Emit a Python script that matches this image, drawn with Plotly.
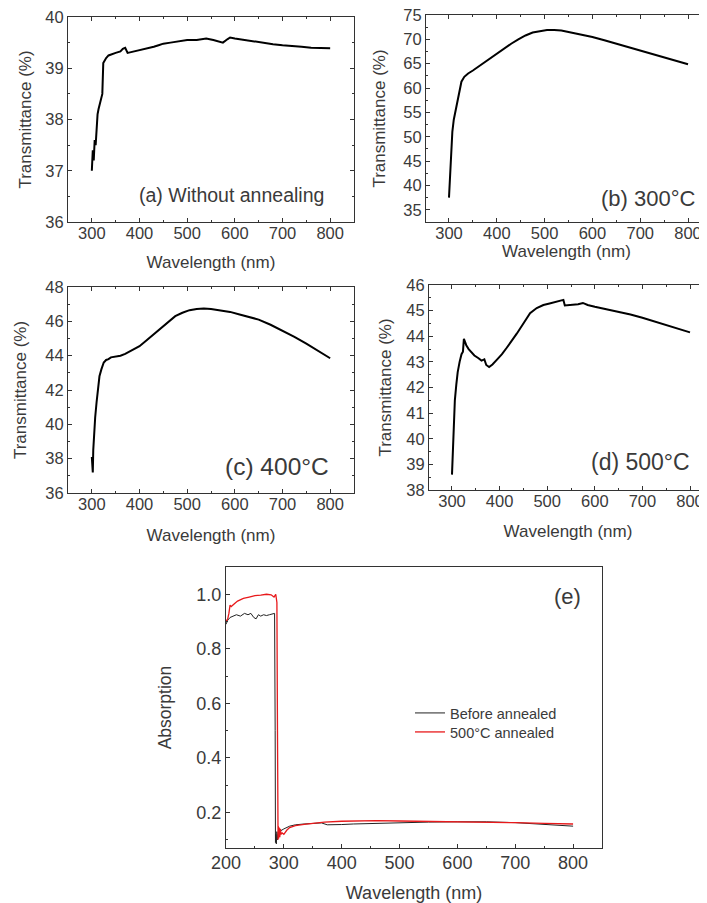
import plotly.graph_objects as go

# ---------------- data ----------------
wl_a = [300, 302, 304, 306, 308, 310, 312, 314, 317, 320, 322, 324, 327, 330, 335, 340, 350, 360, 365, 370, 375, 380, 390, 400, 410, 420, 430, 440, 450, 465, 480, 500, 520, 540, 555, 565, 575, 585, 590, 600, 620, 640, 660, 680, 700, 720, 740, 760, 780, 800]
tr_a = [37.0, 37.4, 37.2, 37.6, 37.5, 37.9, 38.1, 38.2, 38.3, 38.4, 38.5, 39.1, 39.15, 39.2, 39.25, 39.27, 39.3, 39.33, 39.38, 39.4, 39.3, 39.31, 39.33, 39.36, 39.38, 39.4, 39.42, 39.45, 39.48, 39.5, 39.52, 39.55, 39.55, 39.58, 39.55, 39.52, 39.5, 39.57, 39.6, 39.58, 39.55, 39.52, 39.5, 39.47, 39.45, 39.44, 39.42, 39.4, 39.39, 39.39]

wl_b = [300, 302, 304, 307, 310, 314, 318, 322, 326, 332, 340, 350, 360, 370, 385, 400, 415, 430, 445, 460, 475, 490, 505, 520, 535, 550, 575, 600, 625, 650, 675, 700, 725, 750, 775, 800]
tr_b = [37.5, 42.0, 46.5, 51.0, 53.5, 55.5, 58.0, 60.0, 61.3, 62.3, 63.0, 63.6, 64.3, 65.0, 66.0, 67.0, 68.0, 69.1, 70.0, 70.8, 71.4, 71.7, 71.9, 71.9, 71.8, 71.5, 71.0, 70.5, 69.8, 69.1, 68.4, 67.7, 67.0, 66.2, 65.5, 64.9]

wl_c = [300, 301, 302, 303, 305, 307, 310, 313, 316, 320, 325, 330, 335, 340, 350, 360, 370, 380, 390, 400, 415, 430, 445, 460, 475, 490, 505, 520, 535, 550, 570, 590, 610, 630, 650, 675, 700, 725, 750, 775, 800]
tr_c = [38.1, 37.6, 37.2, 38.5, 39.6, 40.4, 41.3, 42.3, 42.8, 43.2, 43.6, 43.75, 43.8, 43.9, 43.95, 44.0, 44.1, 44.25, 44.4, 44.55, 44.9, 45.25, 45.65, 46.0, 46.3, 46.5, 46.65, 46.72, 46.75, 46.72, 46.65, 46.55, 46.4, 46.25, 46.1, 45.8, 45.45, 45.1, 44.7, 44.3, 43.85]

wl_d = [300, 302, 304, 306, 309, 312, 316, 320, 323, 325, 327, 330, 335, 340, 347, 355, 362, 368, 372, 378, 385, 395, 405, 415, 425, 436, 450, 464, 478, 492, 505, 518, 530, 534, 537, 545, 555, 565, 575, 585, 600, 625, 650, 675, 700, 725, 750, 775, 800]
tr_d = [38.6, 39.8, 40.6, 41.5, 42.1, 42.6, 43.0, 43.3, 43.4, 43.9, 43.8, 43.65, 43.5, 43.4, 43.25, 43.15, 43.05, 43.1, 42.88, 42.8, 42.9, 43.1, 43.3, 43.55, 43.8, 44.1, 44.5, 44.9, 45.1, 45.22, 45.28, 45.33, 45.4, 45.42, 45.2, 45.22, 45.22, 45.25, 45.3, 45.22, 45.15, 45.05, 44.95, 44.85, 44.72, 44.58, 44.45, 44.3, 44.15]

wl_e_before = [200, 203, 207, 212, 218, 225, 232, 238, 243, 248, 252, 256, 260, 265, 270, 275, 280, 284, 285, 285.5, 286, 287, 288, 289, 290, 292, 295, 300, 310, 320, 335, 350, 365, 375, 385, 400, 420, 450, 500, 550, 600, 650, 700, 750, 780, 800]
abs_e_before = [0.89, 0.905, 0.915, 0.92, 0.925, 0.92, 0.93, 0.925, 0.93, 0.915, 0.91, 0.925, 0.92, 0.925, 0.922, 0.925, 0.928, 0.93, 0.5, 0.09, 0.12, 0.085, 0.13, 0.1, 0.12, 0.13, 0.135, 0.14, 0.15, 0.155, 0.158, 0.16, 0.162, 0.155, 0.155, 0.156, 0.158, 0.16, 0.163, 0.165, 0.166, 0.166, 0.163, 0.156, 0.152, 0.15]

wl_e_after = [200, 203, 205, 207, 209, 212, 216, 220, 225, 230, 240, 250, 260, 270, 278, 283, 286, 288, 289, 289.5, 290, 290.5, 291, 292, 293, 294, 295, 297, 300, 305, 310, 320, 335, 350, 370, 400, 430, 460, 500, 550, 600, 650, 700, 750, 800]
abs_e_after = [0.9, 0.91, 0.93, 0.96, 0.955, 0.962, 0.968, 0.975, 0.98, 0.985, 0.99, 0.995, 0.997, 1.0, 0.998, 0.99, 1.0, 0.97, 0.5, 0.14, 0.1, 0.15, 0.105, 0.145, 0.11, 0.14, 0.12, 0.125, 0.12, 0.135, 0.145, 0.152, 0.157, 0.16, 0.165, 0.168, 0.17, 0.17, 0.169, 0.168, 0.167, 0.166, 0.163, 0.16, 0.158]

W, H = 707, 903
OFF = 8  # page offset of the figure inside the browser window
FONT = "Arial, Liberation Sans, sans-serif"
TXT = "#3a3a3a"


def px(x):
    return (x - OFF) / W


def py(y):
    return 1 - (y - OFF) / H


def dx(a, b):
    return [px(a), min(px(b), 1.0)]


def dy(top, bottom):
    return [py(bottom), py(top)]


fig = go.Figure()

panels = [
    # name, x, y, xdom, ydom, xrange, yrange, ydtick, yminor, mirror_y, xtitle_standoff, ytitle_standoff
    ("", wl_a, tr_a, dx(68, 354), dy(17, 222), [250, 850], [36, 40], 1, 0.5, True, 15, 9),
    ("2", wl_b, tr_b, dx(426, 707), dy(15, 222), [251.9, 839.7], [32.5, 75], 5, 2.5, False, 4, 13),
    ("3", wl_c, tr_c, dx(68, 354), dy(287, 493), [250, 850], [36, 48], 2, 1, True, 17, 14),
    ("4", wl_d, tr_d, dx(429, 707), dy(285, 490), [251.7, 835.7], [38, 46], 1, 0.5, False, 16, 10),
]

axis_common = dict(
    showline=True, linecolor="#333333", linewidth=1.2,
    ticks="inside", ticklen=4, tickwidth=1, tickcolor="#333333",
    showgrid=False, zeroline=False, automargin=False, ticklabeloverflow="allow",
    tickfont=dict(family=FONT, size=16.5, color=TXT),
)

layout = {}
for name, xs, ys, xd, yd, xr, yr, ydt, ymin, mir, xso, yso in panels:
    xa = "x" + name
    ya = "y" + name
    fig.add_trace(go.Scatter(x=xs, y=ys, mode="lines", xaxis=xa, yaxis=ya,
                             line=dict(color="black", width=2), showlegend=False))
    layout["xaxis" + name] = dict(
        axis_common, domain=xd, range=xr, anchor=ya, tickmode="linear", tick0=300, dtick=100,
        mirror="ticks", ticklabelstandoff=-4,
        minor=dict(ticks="inside", ticklen=2, dtick=50, tick0=300, tickcolor="#333333"),
        title=dict(text="Wavelength (nm)", font=dict(family=FONT, size=17, color=TXT), standoff=xso),
    )
    layout["yaxis" + name] = dict(
        axis_common, domain=yd, range=yr, anchor=xa, tickmode="linear", tick0=yr[0] if ydt != 5 else 35, dtick=ydt,
        mirror="ticks" if mir else False,
        minor=dict(ticks="inside", ticklen=2, dtick=ymin, tickcolor="#333333"),
        title=dict(text="Transmittance (%)", font=dict(family=FONT, size=17, color=TXT), standoff=yso),
    )

# panel (e)
fig.add_trace(go.Scatter(x=wl_e_before, y=abs_e_before, mode="lines", xaxis="x5", yaxis="y5",
                         line=dict(color="#222222", width=1), name="Before annealed", legend="legend"))
fig.add_trace(go.Scatter(x=wl_e_after, y=abs_e_after, mode="lines", xaxis="x5", yaxis="y5",
                         line=dict(color="#e8191b", width=1.3), name="500°C annealed", legend="legend2"))

layout["xaxis5"] = dict(
    axis_common, domain=dx(226, 602), range=[200, 850], anchor="y5", tickmode="linear", tick0=200, dtick=100,
    mirror=True, tickfont=dict(family=FONT, size=18, color=TXT), ticklabelstandoff=-2,
    minor=dict(ticks="inside", ticklen=2, dtick=50, tick0=200, tickcolor="#333333"),
    title=dict(text="Wavelength (nm)", font=dict(family=FONT, size=18, color=TXT), standoff=14),
)
layout["yaxis5"] = dict(
    axis_common, domain=dy(567, 848), range=[0.07, 1.1], anchor="x5", tickmode="array",
    tickvals=[0.2, 0.4, 0.6, 0.8, 1.0], ticktext=["0.2", "0.4", "0.6", "0.8", "1.0"],
    mirror=True, tickfont=dict(family=FONT, size=18, color=TXT),
    minor=dict(ticks="inside", ticklen=2, tickvals=[0.1, 0.3, 0.5, 0.7, 0.9], tickcolor="#333333"),
    title=dict(text="Absorption", font=dict(family=FONT, size=17.5, color=TXT), standoff=20),
)

annotations = [
    dict(text="(a) Without annealing", x=px(326), y=py(195), xanchor="right", yanchor="middle",
         font=dict(family=FONT, size=19.5, color=TXT)),
    dict(text="(b) 300°C", x=px(698), y=py(199), xanchor="right", yanchor="middle",
         font=dict(family=FONT, size=22, color=TXT)),
    dict(text="(c) 400°C", x=px(331), y=py(466), xanchor="right", yanchor="middle",
         font=dict(family=FONT, size=24.5, color=TXT)),
    dict(text="(d) 500°C", x=px(692), y=py(462), xanchor="right", yanchor="middle",
         font=dict(family=FONT, size=23, color=TXT)),
    dict(text="(e)", x=px(583), y=py(596), xanchor="right", yanchor="middle",
         font=dict(family=FONT, size=22, color=TXT)),
]
for a in annotations:
    a.update(xref="paper", yref="paper", showarrow=False)

legend_style = dict(xanchor="left", yanchor="top", bgcolor="rgba(0,0,0,0)",
                    font=dict(family=FONT, size=14.5, color=TXT), itemwidth=30)

fig.update_layout(
    template="none",
    width=W, height=H,
    margin=dict(l=0, r=0, t=0, b=0, autoexpand=False),
    paper_bgcolor="white", plot_bgcolor="white",
    showlegend=True,
    legend=dict(legend_style, x=px(410), y=py(697)),
    legend2=dict(legend_style, x=px(410), y=py(716)),
    annotations=annotations,
    **layout,
)

fig.write_html("out.html")
